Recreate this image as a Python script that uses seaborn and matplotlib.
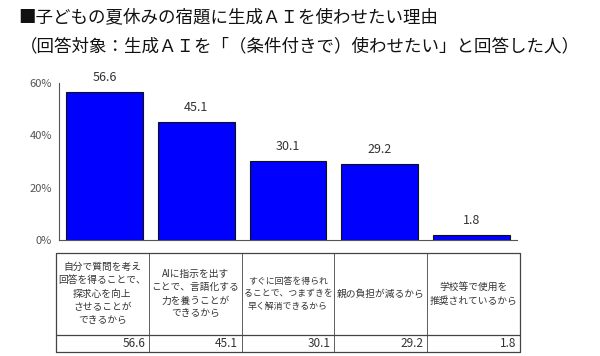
import matplotlib
matplotlib.use("Agg")
import matplotlib.pyplot as plt
import seaborn as sns
import pandas as pd

reasons = [
    "自分で質問を考え\n回答を得ることで、\n探求心を向上\nさせることが\nできるから",
    "AIに指示を出す\nことで、言語化する\n力を養うことが\nできるから",
    "すぐに回答を得られ\nることで、つまずきを\n早く解消できるから",
    "親の負担が減るから",
    "学校等で使用を\n推奨されているから",
]
values = [56.6, 45.1, 30.1, 29.2, 1.8]
yticks = [0, 20, 40, 60]

df = pd.DataFrame({"reason": reasons, "value": values})

sns.set_style("white")
plt.rcParams["font.family"] = ["Noto Sans CJK JP", "DejaVu Sans"]

W, H = 600, 356
fig = plt.figure(figsize=(6, 3.56), dpi=100)

# bar chart
ax = fig.add_axes([59 / W, 1 - 240 / H, (517 - 59) / W, (240 - 83) / H])
sns.barplot(data=df, x="reason", y="value", color="#0000ff", saturation=1,
            width=0.84, edgecolor="#111111", linewidth=0.8, ax=ax)
ax.set_xlim(-0.5, 4.5)
ax.set_ylim(0, 60)
ax.set_yticks(yticks)
ax.set_yticklabels([f"{t}%" for t in yticks], fontsize=8, color="#333333")
ax.set_xticks([i - 0.5 for i in range(6)])
ax.set_xticklabels([])
ax.tick_params(axis="x", direction="out", length=3, width=0.6, colors="#555555")
ax.tick_params(axis="y", direction="out", length=3, width=0.6, colors="#555555", pad=2)
ax.set_xlabel("")
ax.set_ylabel("")
sns.despine(ax=ax)
for s in ["left", "bottom"]:
    ax.spines[s].set_color("#555555")
    ax.spines[s].set_linewidth(0.8)
for i, v in enumerate(values):
    ax.text(i, v + 3, f"{v}", ha="center", va="bottom", fontsize=9,
            color="#333333", clip_on=False)

# data table below
tx = fig.add_axes([56 / W, 1 - 352 / H, (520 - 56) / W, (352 - 253) / H])
tx.set_xlim(-0.5, 4.5)
tx.set_ylim(0, 1)
tx.axis("off")
sep = (352 - 335) / (352 - 253)
lc = "#444444"
tx.plot([-0.5, 4.5, 4.5, -0.5, -0.5], [0, 0, 1, 1, 0], color=lc, lw=0.9, clip_on=False)
tx.plot([-0.5, 4.5], [sep, sep], color=lc, lw=0.9)
for i in range(1, 5):
    tx.plot([i - 0.5, i - 0.5], [0, 1], color=lc, lw=0.6)
for i, (r, v) in enumerate(zip(reasons, values)):
    longest = max(len(line) for line in r.split("\n"))
    fs = 7 if longest <= 9 else 6.4
    tx.text(i, (1 + sep) / 2, r, ha="center", va="center", fontsize=fs,
            color="#333333", linespacing=1.45)
    tx.text(i + 0.46, sep / 2, f"{v}", ha="right", va="center", fontsize=8.5,
            color="#333333")

# titles
fig.text(18 / W, 1 - 17 / H, "■子どもの夏休みの宿題に生成ＡＩを使わせたい理由",
         fontsize=12.6, ha="left", va="center", color="#111111")
fig.text(20 / W, 1 - 46 / H, "（回答対象：生成ＡＩを「（条件付きで）使わせたい」と回答した人）",
         fontsize=12.6, ha="left", va="center", color="#111111")

fig.savefig("out.png", dpi=100, facecolor="white")
